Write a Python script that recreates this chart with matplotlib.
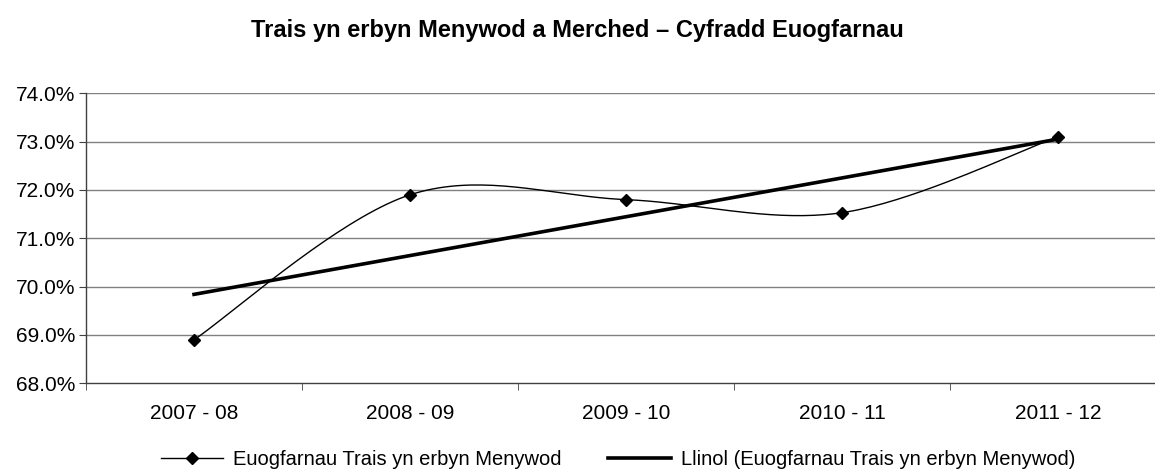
import numpy as np
import matplotlib
matplotlib.use("Agg")
import matplotlib.pyplot as plt
from matplotlib.ticker import FuncFormatter, FixedLocator

plt.rcParams["font.family"] = ["Liberation Sans", "DejaVu Sans"]

# Data
periods = ["2007 - 08", "2008 - 09", "2009 - 10", "2010 - 11", "2011 - 12"]
conviction_rate = [68.9, 71.9, 71.8, 71.53, 73.1]

title = "Trais yn erbyn Menywod a Merched \u2013 Cyfradd Euogfarnau"
series_label = "Euogfarnau Trais yn erbyn Menywod"
trend_label = "Llinol (Euogfarnau Trais yn erbyn Menywod)"


def smooth_curve(x, y, steps=40):
    """Catmull-Rom style smoothing (like Excel's smoothed line)."""
    pts = np.column_stack([x, y]).astype(float)
    ext = np.vstack([pts[0], pts, pts[-1]])
    out = []
    for i in range(len(pts) - 1):
        p0, p1, p2, p3 = ext[i], ext[i + 1], ext[i + 2], ext[i + 3]
        c1 = p1 + (p2 - p0) / 6.0
        c2 = p2 - (p3 - p1) / 6.0
        t = np.linspace(0, 1, steps)[:, None]
        seg = ((1 - t) ** 3) * p1 + 3 * ((1 - t) ** 2) * t * c1 + 3 * (1 - t) * t ** 2 * c2 + t ** 3 * p2
        out.append(seg if i == 0 else seg[1:])
    seg = np.vstack(out)
    return seg[:, 0], seg[:, 1]


x = np.arange(len(periods))
y = np.array(conviction_rate)

fig = plt.figure(figsize=(11.55, 4.71), dpi=100)
ax = fig.add_axes([0.0745, 0.1862, 0.935, 0.6157])

for v in range(69, 75):
    ax.axhline(v, color="#808080", linewidth=1.0, zorder=1)

sx, sy = smooth_curve(x, y)
ax.plot(sx, sy, color="black", linewidth=1.0, zorder=3)
ax.plot(x, y, linestyle="none", marker="D", markersize=6, color="black", zorder=4)

# linear trendline
slope, intercept = np.polyfit(x, y, 1)
ax.plot(x, slope * x + intercept, color="black", linewidth=2.6, zorder=2)

ax.set_xlim(-0.5, len(periods) - 0.5)
ax.set_ylim(68, 74)
ax.yaxis.set_major_locator(FixedLocator(np.arange(68, 74.1, 1)))
ax.yaxis.set_major_formatter(FuncFormatter(lambda v, p: f"{v:.1f}%"))
ax.set_xticks(x)
ax.set_xticklabels(periods)
ax.xaxis.set_minor_locator(FixedLocator(np.arange(-0.5, len(periods), 1)))
ax.tick_params(axis="x", which="major", length=0, pad=15, labelsize=15)
ax.tick_params(axis="x", which="minor", length=5, color="#404040", direction="out")
ax.tick_params(axis="y", length=5, color="#404040", labelsize=15, pad=3)

for side in ["top", "right"]:
    ax.spines[side].set_visible(False)
for side in ["left", "bottom"]:
    ax.spines[side].set_color("#404040")
    ax.spines[side].set_linewidth(1.0)

fig.text(0.5, 0.935, title, ha="center", va="center", fontsize=17, fontweight="bold")

h1 = plt.Line2D([], [], color="black", linewidth=1.0, marker="D", markersize=6)
h2 = plt.Line2D([], [], color="black", linewidth=2.6)
fig.legend([h1, h2], [series_label, trend_label], loc="center",
           bbox_to_anchor=(0.535, 0.024), ncol=2, frameon=False, fontsize=14.5,
           handlelength=3.1, columnspacing=2.3, handletextpad=0.5,
           borderpad=0, borderaxespad=0)

fig.savefig("out.png", dpi=100)
